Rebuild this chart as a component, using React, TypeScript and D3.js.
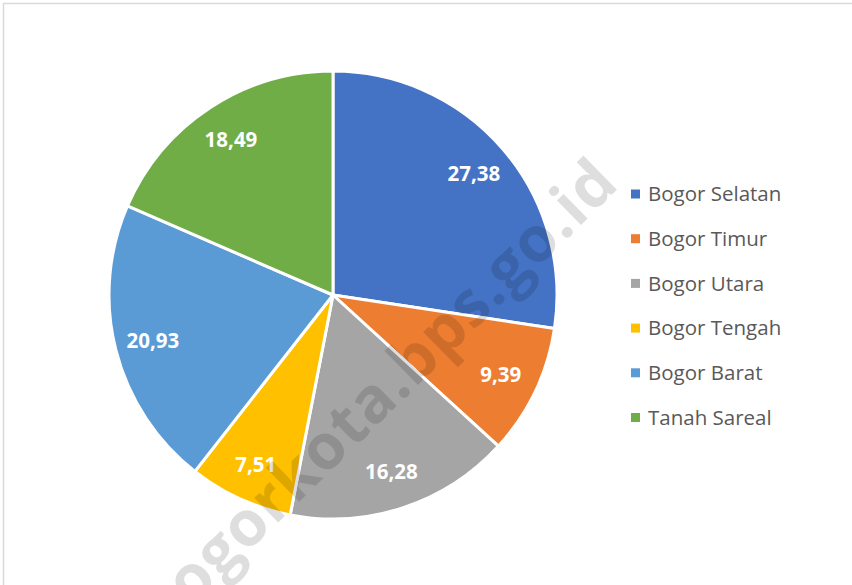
import React from "react";
import * as d3 from "d3";

const categories = ["Bogor Selatan", "Bogor Timur", "Bogor Utara", "Bogor Tengah", "Bogor Barat", "Tanah Sareal"];
const values = [27.38, 9.39, 16.28, 7.51, 20.93, 18.49];
const labels = ["27,38", "9,39", "16,28", "7,51", "20,93", "18,49"];
const colors = ["#4472C4", "#ED7D31", "#A5A5A5", "#FFC000", "#5B9BD5", "#70AD47"];
const watermark = "bogorkota.bps.go.id";

const W = 852;
const H = 585;
const cx = 333;
const cy = 295;
const R = 224;

export default function App() {
  const data = categories.map((c, i) => ({ name: c, value: values[i], label: labels[i], color: colors[i] }));
  const pie = d3.pie<any>().sort(null).value((d: any) => d.value);
  const arcs = pie(data);
  const arc = d3.arc<any>().innerRadius(0).outerRadius(R);
  const labelArc = d3.arc<any>().innerRadius(R * 0.83).outerRadius(R * 0.83);

  const legendY = d3.scaleLinear().domain([0, categories.length - 1]).range([194, 417.5]);

  const font = "'Open Sans', 'Noto Sans', sans-serif";

  return (
    <svg
      width={W}
      height={H}
      style={{ position: "absolute", left: 0, top: 0, background: "#fff" }}
    >
      <rect x={3.5} y={3.5} width={1000} height={800} fill="#fff" stroke="#d9d9d9" strokeWidth={1.5} />
      <g transform={`translate(${cx},${cy})`}>
        {arcs.map((a, i) => (
          <path key={i} d={arc(a) as string} fill={a.data.color} stroke="#fff" strokeWidth={3} strokeLinejoin="round" />
        ))}
        {arcs.map((a, i) => {
          const [x, y] = labelArc.centroid(a);
          return (
            <text
              key={"l" + i}
              x={x}
              y={y}
              dy="0.36em"
              textAnchor="middle"
              fill="#fff"
              fontFamily={font}
              fontWeight={700}
              fontSize={20.5}
            >
              {a.data.label}
            </text>
          );
        })}
      </g>
      <g>
        {data.map((d, i) => (
          <g key={"lg" + i} transform={`translate(0,${legendY(i)})`}>
            <rect x={631} y={-4.5} width={9} height={9} fill={d.color} />
            <text x={648} y={0} dy="0.36em" fill="#595959" fontFamily={font} fontSize={20.5}>
              {d.name}
            </text>
          </g>
        ))}
      </g>
      <text
        transform={`translate(377,396) rotate(-44.5)`}
        y={21}
        textAnchor="middle"
        fill="#000"
        fillOpacity={0.13}
        fontFamily={font}
        fontWeight={700}
        fontSize={63}
        letterSpacing={1}
      >
        {watermark}
      </text>
    </svg>
  );
}
